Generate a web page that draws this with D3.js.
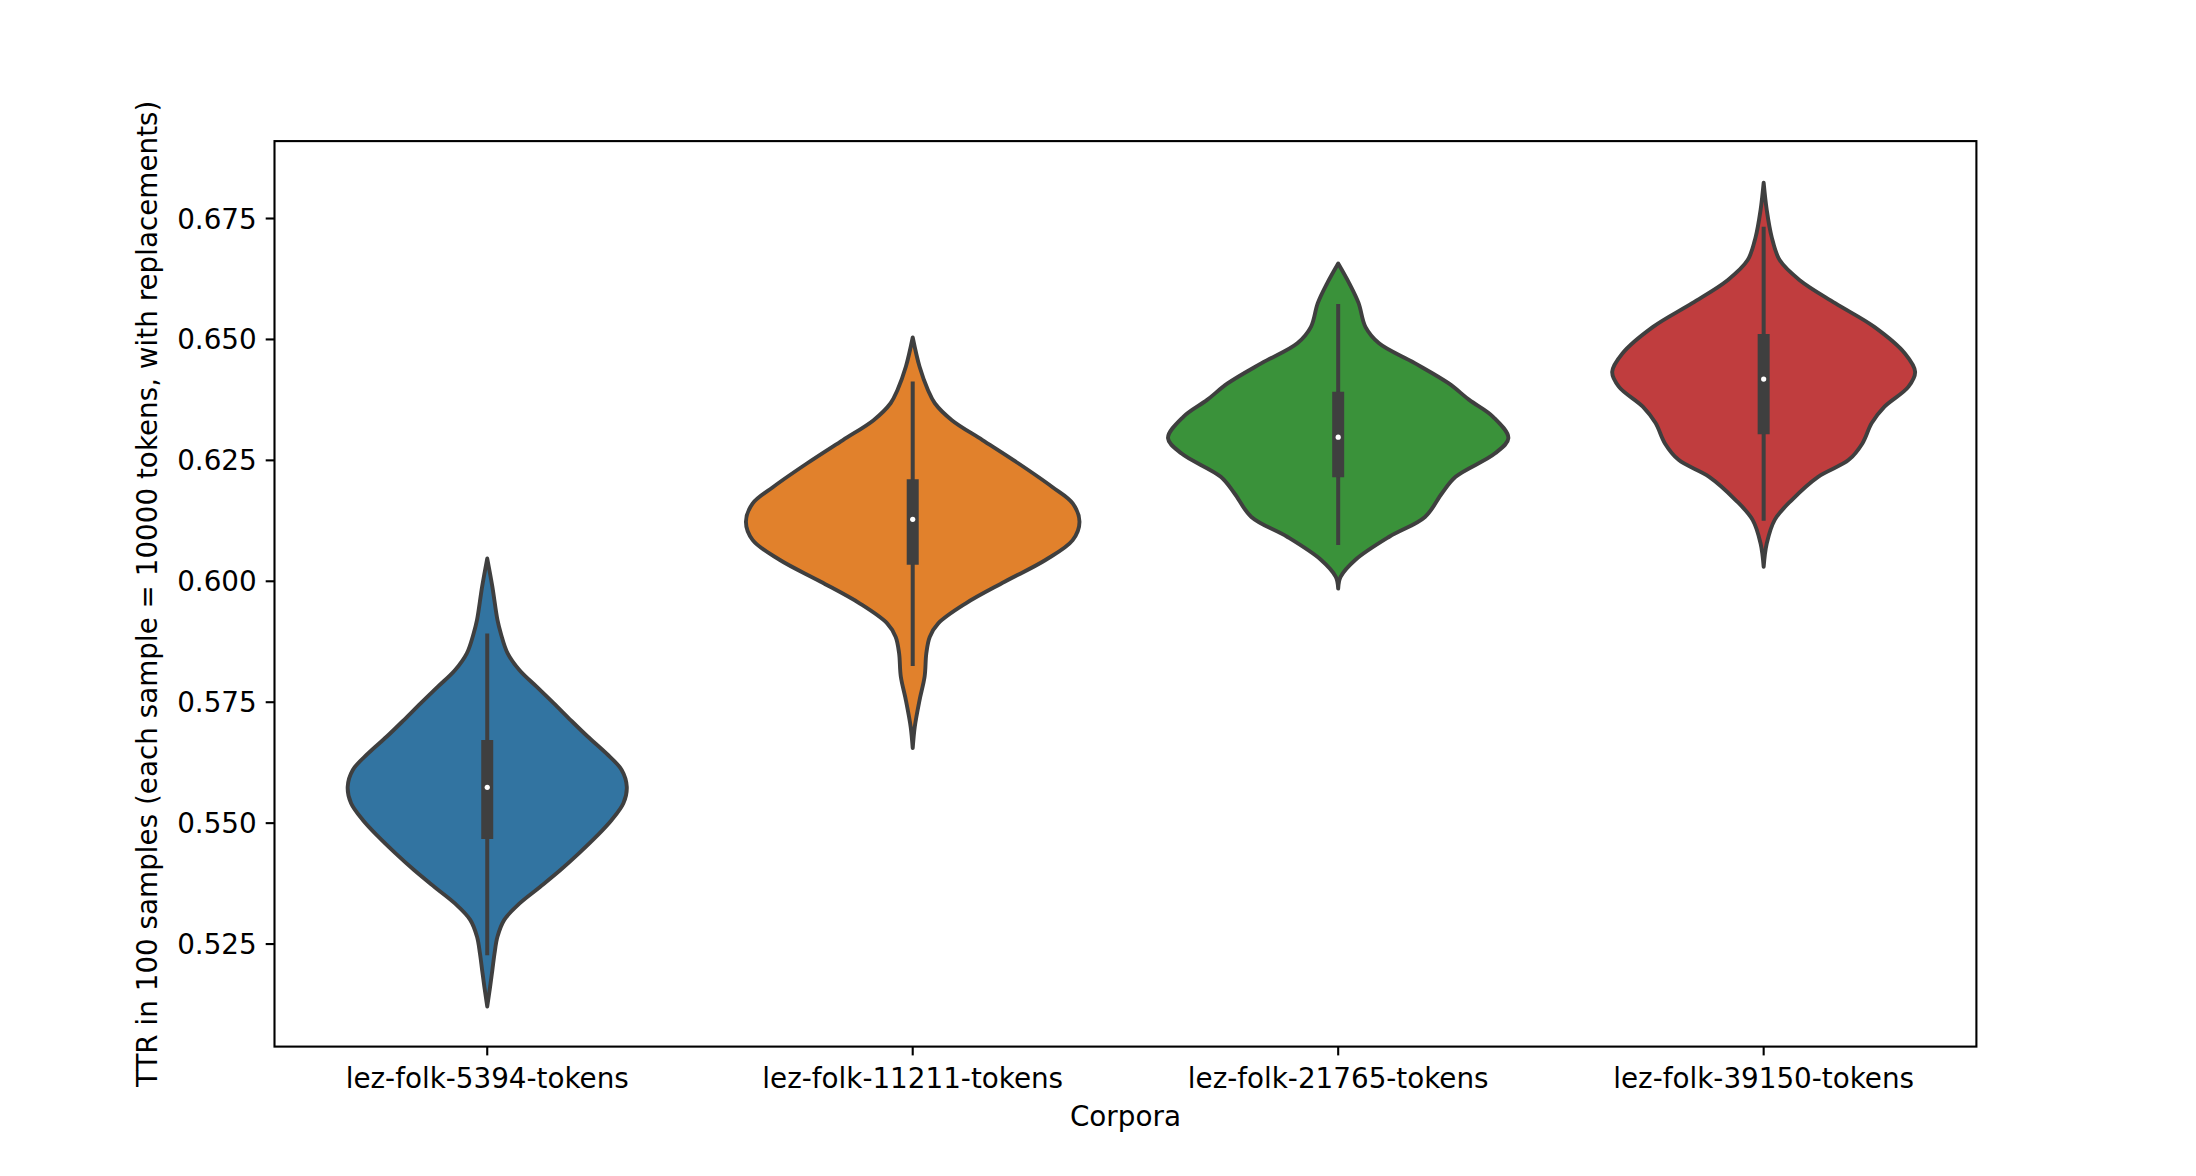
<!DOCTYPE html>
<html>
<head>
<meta charset="utf-8">
<script src="https://cdn.jsdelivr.net/npm/d3@7"></script>
<style>
  html, body { margin: 0; padding: 0; background: #ffffff; }
  svg { display: block; }
  text { font-family: "DejaVu Sans", sans-serif; fill: #000; }
</style>
</head>
<body>
<svg id="chart" width="2196" height="1176"></svg>
<script>
// ---------------- data ----------------
const categories = ["lez-folk-5394-tokens", "lez-folk-11211-tokens", "lez-folk-21765-tokens", "lez-folk-39150-tokens"];
const colors = ["#3274a1", "#e1812c", "#3a923a", "#c03d3e"];
const yTicks = [0.525, 0.550, 0.575, 0.600, 0.625, 0.650, 0.675];

// violin outlines: TTR value and relative density (half-width)
const ttr5394 = [0.6046, 0.5988, 0.5919, 0.5891, 0.5850, 0.5815, 0.5781, 0.5747, 0.5712, 0.5678, 0.5643, 0.5609, 0.5574, 0.5540, 0.5505, 0.5471, 0.5437, 0.5402, 0.5367, 0.5333, 0.5299, 0.5264, 0.5230, 0.5195, 0.5161, 0.5120];
const dens5394 = [0, 0.03, 0.06, 0.08, 0.12, 0.19, 0.29, 0.39, 0.49, 0.59, 0.70, 0.79, 0.82, 0.80, 0.73, 0.64, 0.54, 0.43, 0.31, 0.19, 0.10, 0.06, 0.043, 0.03, 0.017, 0];

const ttr11211 = [0.6503, 0.6443, 0.6394, 0.6367, 0.6332, 0.6291, 0.6243, 0.6194, 0.6160, 0.6122, 0.6084, 0.6043, 0.5998, 0.5953, 0.5912, 0.5884, 0.5850, 0.5802, 0.5753, 0.5698, 0.5654];
const dens11211 = [0, 0.04, 0.09, 0.13, 0.23, 0.41, 0.62, 0.82, 0.94, 0.98, 0.94, 0.78, 0.54, 0.31, 0.15, 0.10, 0.08, 0.07, 0.04, 0.012, 0];

const ttr21765 = [0.6656, 0.6615, 0.6574, 0.6525, 0.6491, 0.6450, 0.6408, 0.6374, 0.6339, 0.6295, 0.6263, 0.6215, 0.6181, 0.6132, 0.6091, 0.6043, 0.6008, 0.5984];
const dens21765 = [0, 0.065, 0.12, 0.16, 0.24, 0.45, 0.65, 0.77, 0.91, 1.0, 0.92, 0.69, 0.61, 0.51, 0.30, 0.10, 0.014, 0];

const ttr39150 = [0.6823, 0.6767, 0.6711, 0.6663, 0.6622, 0.6574, 0.6525, 0.6470, 0.6432, 0.6401, 0.6360, 0.6326, 0.6284, 0.6250, 0.6215, 0.6167, 0.6126, 0.6077, 0.6029];
const dens39150 = [0, 0.018, 0.047, 0.094, 0.21, 0.42, 0.65, 0.83, 0.89, 0.85, 0.71, 0.635, 0.58, 0.50, 0.32, 0.165, 0.065, 0.018, 0];

// inner box statistics
const whiskerLow  = [0.5226, 0.5824, 0.6074, 0.6124];
const quartile1   = [0.5466, 0.6033, 0.6214, 0.6303];
const medians     = [0.5573, 0.6127, 0.6297, 0.6417];
const quartile3   = [0.5671, 0.6210, 0.6391, 0.6510];
const whiskerHigh = [0.5891, 0.6412, 0.6572, 0.6732];

const yLabel = "TTR in 100 samples (each sample = 10000 tokens, with replacements)";
const xLabel = "Corpora";

// ---------------- layout ----------------
const W = 2196, H = 1176;
const margin = { left: 274.5, right: 2196 - 1976.4, top: 141.1, bottom: 1176 - 1046.6 };
const gray = "#3f3f3f";
const fontSize = 27.8;

const svg = d3.select("#chart");
const x = d3.scaleBand().domain(categories).range([margin.left, W - margin.right]).paddingInner(0).paddingOuter(0);
const y = d3.scaleLinear().domain([0.5037, 0.6909]).range([H - margin.bottom, margin.top]);
const wScale = d3.scaleLinear().domain([0, 1]).range([0, x.bandwidth() * 0.4]);

const profiles = [
  d3.zip(ttr5394, dens5394),
  d3.zip(ttr11211, dens11211),
  d3.zip(ttr21765, dens21765),
  d3.zip(ttr39150, dens39150)
];

const g = svg.append("g");

categories.forEach((cat, i) => {
  const cx = x(cat) + x.bandwidth() / 2;
  const area = d3.area()
    .y(d => y(d[0]))
    .x0(d => cx - wScale(d[1]))
    .x1(d => cx + wScale(d[1]))
    .curve(d3.curveCatmullRom.alpha(0.5));
  const pts = profiles[i].slice().sort((a, b) => b[0] - a[0]);
  g.append("path")
    .attr("d", area(pts))
    .attr("fill", colors[i])
    .attr("stroke", gray)
    .attr("stroke-width", 3.9)
    .attr("stroke-linejoin", "round");

  // whisker
  g.append("line")
    .attr("x1", cx).attr("x2", cx)
    .attr("y1", y(whiskerLow[i])).attr("y2", y(whiskerHigh[i]))
    .attr("stroke", gray).attr("stroke-width", 4);
  // box
  g.append("line")
    .attr("x1", cx).attr("x2", cx)
    .attr("y1", y(quartile1[i])).attr("y2", y(quartile3[i]))
    .attr("stroke", gray).attr("stroke-width", 12);
  // median
  g.append("circle")
    .attr("cx", cx).attr("cy", y(medians[i]))
    .attr("r", 2.6)
    .attr("fill", "#ffffff");
});

// axes
const yAxis = d3.axisLeft(y).tickValues(yTicks).tickFormat(d3.format(".3f")).tickSize(8.8).tickPadding(9);
const xAxis = d3.axisBottom(x).tickSize(8.8).tickPadding(9);

const gy = svg.append("g").attr("transform", `translate(${margin.left},0)`).call(yAxis);
const gx = svg.append("g").attr("transform", `translate(0,${H - margin.bottom})`).call(xAxis);

[gx, gy].forEach(ax => {
  ax.select(".domain").remove();
  ax.selectAll(".tick line").attr("stroke", "#000").attr("stroke-width", 2.1);
  ax.selectAll(".tick text").attr("font-size", fontSize).attr("font-family", "DejaVu Sans").attr("fill", "#000");
});
gy.selectAll(".tick text").attr("dy", "0.36em");
gx.selectAll(".tick text").attr("dy", "0.85em");

// frame
svg.append("rect")
  .attr("x", margin.left).attr("y", margin.top)
  .attr("width", W - margin.left - margin.right)
  .attr("height", H - margin.top - margin.bottom)
  .attr("fill", "none").attr("stroke", "#000").attr("stroke-width", 2.1);

// labels
svg.append("text")
  .attr("x", (margin.left + W - margin.right) / 2)
  .attr("y", 1126)
  .attr("text-anchor", "middle")
  .attr("font-size", fontSize)
  .text(xLabel);

svg.append("text")
  .attr("transform", `translate(157,${(margin.top + H - margin.bottom) / 2}) rotate(-90)`)
  .attr("text-anchor", "middle")
  .attr("font-size", fontSize)
  .text(yLabel);
</script>
</body>
</html>
